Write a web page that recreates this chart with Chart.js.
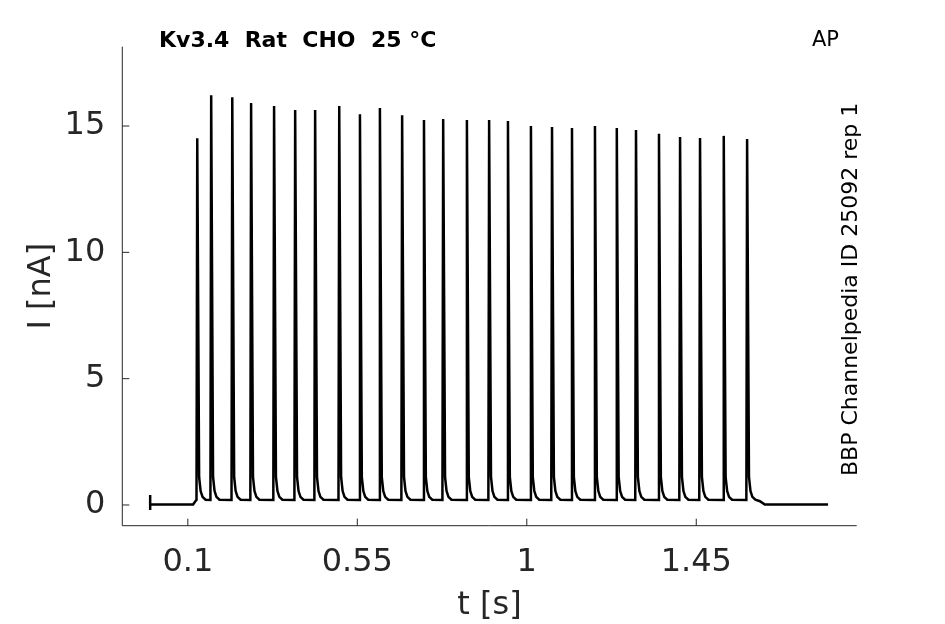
<!DOCTYPE html>
<html>
<head>
<meta charset="utf-8">
<script src="https://cdn.jsdelivr.net/npm/chart.js@4.4.1/dist/chart.umd.min.js"></script>
<style>
    html, body { margin: 0; padding: 0; background: #fff; }
</style>
</head>
<body>
<canvas id="apChart" width="945" height="624"></canvas>
<script>
// Trace before the pulse train (artifact + flat baseline)
const startT = [0, 0, 0, 0.114, 0.120];
const startI = [0.4, -0.2, 0.02, 0.02, 0.15];

// Spike times (s) and peak currents (nA)
const spikeTimes = [0.125, 0.162, 0.218, 0.268, 0.329, 0.385, 0.438, 0.502, 0.557, 0.610,
                    0.669, 0.727, 0.778, 0.841, 0.900, 0.950, 1.011, 1.067, 1.120, 1.181,
                    1.239, 1.290, 1.351, 1.407, 1.460, 1.523, 1.585];
const spikePeaks = [14.52, 16.22, 16.14, 15.91, 15.79, 15.63, 15.63, 15.79, 15.47, 15.71,
                    15.43, 15.24, 15.28, 15.24, 15.24, 15.20, 15.00, 14.96, 14.92, 15.00,
                    14.92, 14.84, 14.69, 14.57, 14.53, 14.61, 14.49];

// Shape around each spike: offset from peak (s) and current (nA); null = the peak itself
const shapeDt = [-0.002, 0, 0.005, 0.009, 0.014, 0.022];
const shapeI = [0.2, null, 1.1, 0.55, 0.32, 0.21];

// Tail after the last spike
const tailT = [1.619, 1.632, 1.800];
const tailI = [0.15, 0.02, 0.02];

const xTicks = [0.1, 0.55, 1, 1.45];
const xTickLabels = ['0.1', '0.55', '1', '1.45'];
const yTicks = [0, 5, 10, 15];
const yTickLabels = ['0', '5', '10', '15'];

const axisColor = '#262626';

// Build the trace points
const trace = [];
startT.forEach((t, i) => trace.push({ x: t, y: startI[i] }));
spikeTimes.forEach((t, k) => {
    shapeDt.forEach((dt, j) => {
        trace.push({ x: t + dt, y: shapeI[j] === null ? spikePeaks[k] : shapeI[j] });
    });
});
tailT.forEach((t, i) => trace.push({ x: t, y: tailI[i] }));

// Axis lines, inward ticks and all the free text
const framePlugin = {
    id: 'frame',
    afterDraw(chart) {
        const { ctx, chartArea: a, scales: { x, y } } = chart;
        ctx.save();
        ctx.strokeStyle = axisColor;
        ctx.lineWidth = 1;
        ctx.beginPath();
        ctx.moveTo(a.left, a.top);
        ctx.lineTo(a.left, a.bottom);
        ctx.lineTo(a.right, a.bottom);
        xTicks.forEach(v => {
            const px = x.getPixelForValue(v);
            ctx.moveTo(px, a.bottom);
            ctx.lineTo(px, a.bottom - 7);
        });
        yTicks.forEach(v => {
            const py = y.getPixelForValue(v);
            ctx.moveTo(a.left, py);
            ctx.lineTo(a.left + 7, py);
        });
        ctx.stroke();

        // header
        ctx.fillStyle = '#000';
        ctx.font = 'bold 22px "DejaVu Sans"';
        ctx.textAlign = 'left';
        ctx.textBaseline = 'alphabetic';
        ctx.fillText('Kv3.4  Rat  CHO  25 °C', 159, 46.5);

        ctx.font = '21px "DejaVu Sans"';
        ctx.textAlign = 'right';
        ctx.fillText('AP', 839, 45.5);

        ctx.save();
        ctx.font = '22px "DejaVu Sans"';
        ctx.translate(857, 476);
        ctx.rotate(-Math.PI / 2);
        ctx.textAlign = 'left';
        ctx.fillText('BBP Channelpedia ID 25092 rep 1', 0, 0);
        ctx.restore();

        // axis titles
        ctx.fillStyle = axisColor;
        ctx.font = '32px "DejaVu Sans"';
        ctx.textAlign = 'center';
        ctx.fillText('t [s]', (a.left + a.right) / 2, 614);

        ctx.save();
        ctx.translate(50, (a.top + a.bottom) / 2);
        ctx.rotate(-Math.PI / 2);
        ctx.fillText('I [nA]', 0, 0);
        ctx.restore();

        ctx.restore();
    }
};

new Chart(document.getElementById('apChart'), {
    type: 'line',
    data: {
        datasets: [{
            data: trace,
            borderColor: '#000',
            borderWidth: 2.5,
            pointRadius: 0,
            tension: 0,
            fill: false
        }]
    },
    options: {
        responsive: false,
        animation: false,
        events: [],
        layout: {
            padding: { left: 0, top: 46.7, right: 88.3, bottom: 0 }
        },
        plugins: {
            legend: { display: false },
            tooltip: { enabled: false }
        },
        scales: {
            x: {
                type: 'linear',
                min: -0.074,
                max: 1.876,
                grid: { display: false, drawTicks: false },
                border: { display: false },
                afterBuildTicks: s => { s.ticks = xTicks.map(v => ({ value: v })); },
                afterFit: s => { s.height = 98.3; },
                ticks: {
                    padding: 18,
                    color: axisColor,
                    maxRotation: 0,
                    font: { family: 'DejaVu Sans', size: 32 },
                    callback: (v, i) => xTickLabels[i]
                }
            },
            y: {
                type: 'linear',
                min: -0.82,
                max: 18.14,
                grid: { display: false, drawTicks: false },
                border: { display: false },
                afterBuildTicks: s => { s.ticks = yTicks.map(v => ({ value: v })); },
                afterFit: s => { s.width = 122.3; },
                ticks: {
                    padding: 17,
                    color: axisColor,
                    font: { family: 'DejaVu Sans', size: 32 },
                    callback: (v, i) => yTickLabels[i]
                }
            }
        }
    },
    plugins: [framePlugin]
});
</script>
</body>
</html>
